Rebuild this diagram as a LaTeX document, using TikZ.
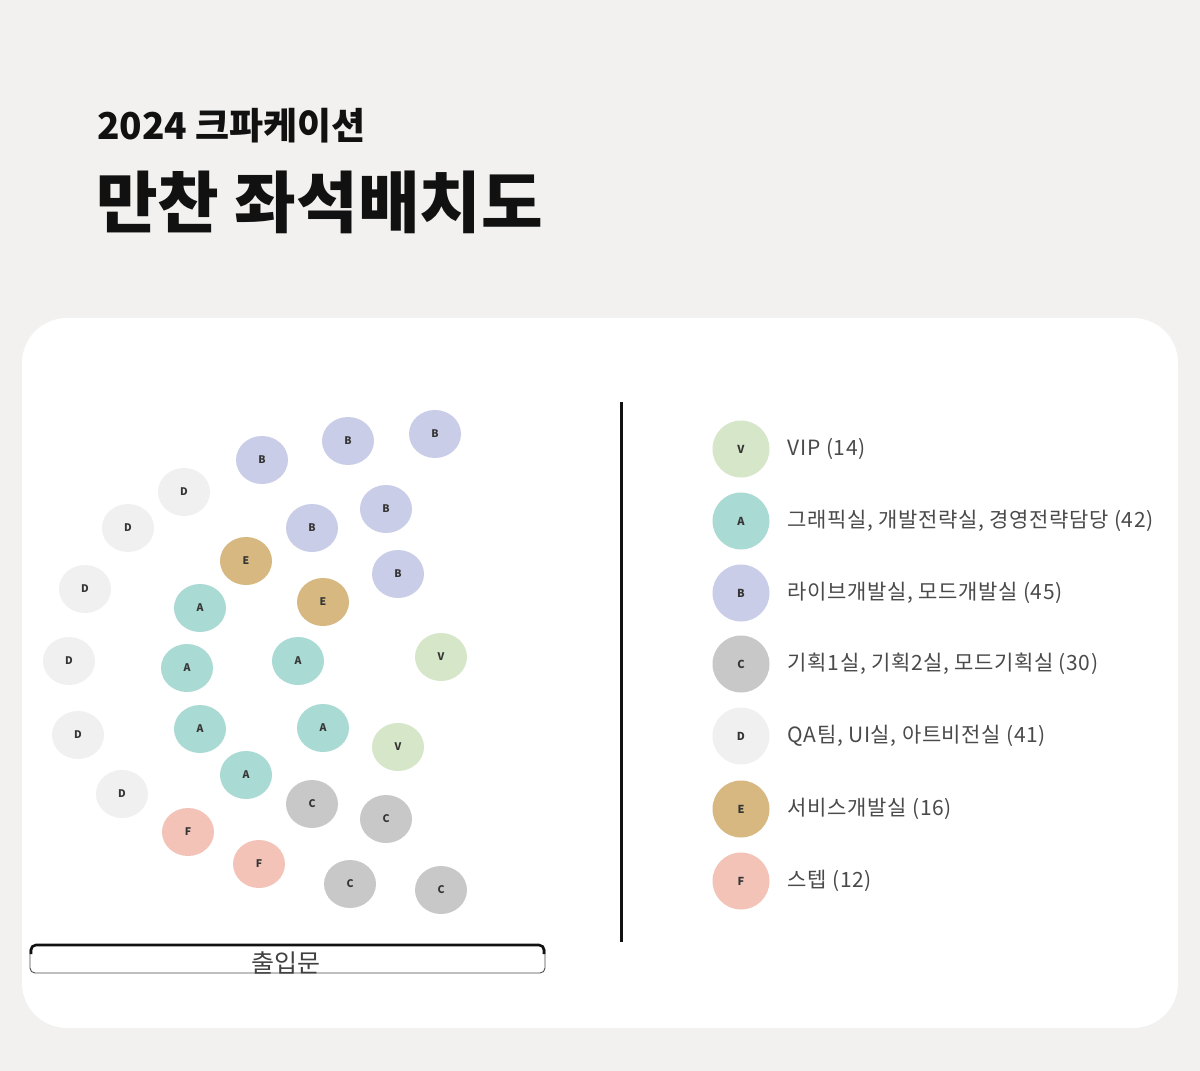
\documentclass[tikz,border=0pt]{standalone}
\usepackage{fontspec}
\usepackage{tikz}
\usetikzlibrary{positioning,shapes.geometric}
\newfontfamily\kr{Noto Sans CJK KR}
\newfontfamily\krwide[LetterSpace=3]{Noto Sans CJK KR}
\definecolor{Paper}{HTML}{F2F1F0}
\definecolor{Ink}{HTML}{111111}
\definecolor{Muted}{HTML}{4A4A4A}
\definecolor{SeatV}{HTML}{D6E6C8}
\definecolor{SeatA}{HTML}{AADAD4}
\definecolor{SeatB}{HTML}{C9CDE8}
\definecolor{SeatC}{HTML}{C8C8C8}
\definecolor{SeatD}{HTML}{F0F0F0}
\definecolor{SeatE}{HTML}{D6B880}
\definecolor{SeatF}{HTML}{F3C3B8}
\tikzset{
  seat/.style={ellipse,minimum width=52pt,minimum height=48pt,inner sep=0pt,text=Ink!85,font=\kr\bfseries\fontsize{10.5}{10.5}\selectfont},
  keydot/.style={circle,minimum size=57pt,inner sep=0pt,text=Ink!85,font=\kr\bfseries\fontsize{11}{11}\selectfont},
  keytext/.style={right=18pt of #1,anchor=west,inner sep=0pt,text=Muted,font=\krwide\fontsize{21}{21}\selectfont}
}
\begin{document}
\begin{tikzpicture}[x=1pt,y=-1pt]
\useasboundingbox (0,0) rectangle (1200,1071);
\fill[Paper] (0,0) rectangle (1200,1071);
% title
\node[anchor=base west,inner sep=0pt,text=Ink,font=\kr\bfseries\fontsize{37}{37}\selectfont] (year) at (97,139) {2024 크파케이션};
\node[anchor=base west,inner sep=0pt,text=Ink,font=\kr\bfseries\fontsize{67}{67}\selectfont] (title) at (96,227) {만찬 좌석배치도};
% card
\fill[white,rounded corners=45pt] (22,318) rectangle (1178,1028);
% seats
\foreach \x/\y [count=\i] in {262/460,348/441,435/434,386/509,312/528,398/574}
  \node[seat,fill=SeatB] (seatB\i) at (\x,\y) {B};
\foreach \x/\y [count=\i] in {184/492,128/528,85/589,69/661,78/735,122/794}
  \node[seat,fill=SeatD] (seatD\i) at (\x,\y) {D};
\foreach \x/\y [count=\i] in {246/561,323/602}
  \node[seat,fill=SeatE] (seatE\i) at (\x,\y) {E};
\foreach \x/\y [count=\i] in {200/608,187/668,298/661,200/729,323/728,246/775}
  \node[seat,fill=SeatA] (seatA\i) at (\x,\y) {A};
\foreach \x/\y [count=\i] in {441/657,398/747}
  \node[seat,fill=SeatV] (seatV\i) at (\x,\y) {V};
\foreach \x/\y [count=\i] in {312/804,386/819,350/884,441/890}
  \node[seat,fill=SeatC] (seatC\i) at (\x,\y) {C};
\foreach \x/\y [count=\i] in {188/832,259/864}
  \node[seat,fill=SeatF] (seatF\i) at (\x,\y) {F};
% entrance
\draw[Ink!75,line width=0.9pt,rounded corners=5pt] (30,945) rectangle (545,973);
\draw[Ink,line width=2.6pt,rounded corners=5pt] (31,954) -- (31,945) -- (544,945) -- (544,954);
\node[inner sep=0pt,text=Ink!80,font=\kr\fontsize{25}{25}\selectfont] (door) at (286,963) {출입문};
% divider
\draw[Ink,line width=3pt] (621,402) -- (621,942);
% legend
\node[keydot,fill=SeatV] (keyV) at (741,449) {V};
\node[keydot,fill=SeatA] (keyA) at (741,521) {A};
\node[keydot,fill=SeatB] (keyB) at (741,593) {B};
\node[keydot,fill=SeatC] (keyC) at (741,664) {C};
\node[keydot,fill=SeatD] (keyD) at (741,736) {D};
\node[keydot,fill=SeatE] (keyE) at (741,809) {E};
\node[keydot,fill=SeatF] (keyF) at (741,881) {F};
\node[keytext=keyV] (labV) {VIP (14)};
\node[keytext=keyA] (labA) {그래픽실, 개발전략실, 경영전략담당 (42)};
\node[keytext=keyB] (labB) {라이브개발실, 모드개발실 (45)};
\node[keytext=keyC] (labC) {기획1실, 기획2실, 모드기획실 (30)};
\node[keytext=keyD] (labD) {QA팀, UI실, 아트비전실 (41)};
\node[keytext=keyE] (labE) {서비스개발실 (16)};
\node[keytext=keyF] (labF) {스텝 (12)};
\end{tikzpicture}
\end{document}
